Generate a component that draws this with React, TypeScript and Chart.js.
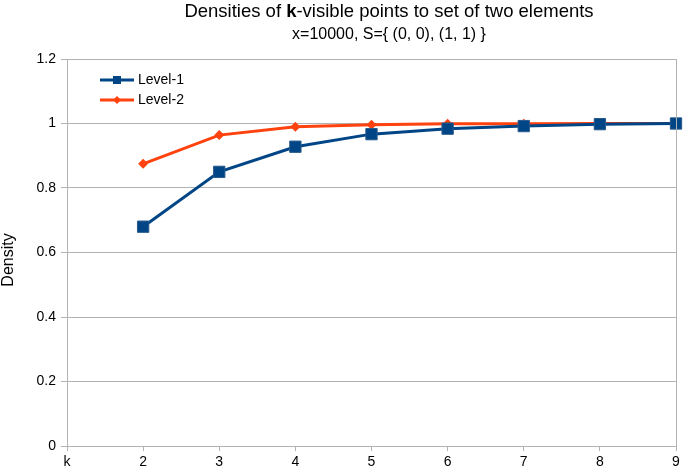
import React, { useEffect, useRef } from "react";
import { Chart, registerables } from "chart.js";

Chart.register(...registerables);

const categories = ["k", "2", "3", "4", "5", "6", "7", "8", "9"];
const level1 = [null, 0.68, 0.85, 0.928, 0.967, 0.984, 0.992, 0.998, 1.0];
const level2 = [null, 0.875, 0.964, 0.99, 0.996, 0.999, 0.999, 1.0, 1.0];
const seriesNames = ["Level-1", "Level-2"];
const yTicks = [0, 0.2, 0.4, 0.6, 0.8, 1, 1.2];
const titleParts = ["Densities of ", "k", "-visible points to set of two elements"];
const subtitleText = "x=10000, S={ (0, 0), (1, 1) }";
const yAxisTitle = "Density";

const BLUE = "#004586";
const ORANGE = "#ff420e";
const FONT = "'Liberation Sans', Arial, sans-serif";

const decorPlugin = {
  id: "decor",
  afterDraw(chart: any) {
    const ctx = chart.ctx;
    const ca = chart.chartArea;
    ctx.save();
    // right border
    ctx.strokeStyle = "#b3b3b3";
    ctx.lineWidth = 1;
    ctx.beginPath();
    ctx.moveTo(Math.round(ca.right) + 0.5, ca.top);
    ctx.lineTo(Math.round(ca.right) + 0.5, ca.bottom);
    ctx.stroke();

    // title with bold k
    const cx = 389;
    ctx.fillStyle = "#000";
    ctx.textBaseline = "middle";
    ctx.textAlign = "left";
    const fonts = [`18.5px ${FONT}`, `bold 18.5px ${FONT}`, `18.5px ${FONT}`];
    let total = 0;
    const widths = titleParts.map((t, i) => {
      ctx.font = fonts[i];
      const w = ctx.measureText(t).width;
      total += w;
      return w;
    });
    let x = cx - total / 2;
    titleParts.forEach((t, i) => {
      ctx.font = fonts[i];
      ctx.fillText(t, x, 12);
      x += widths[i];
    });
    ctx.font = `16px ${FONT}`;
    ctx.textAlign = "center";
    ctx.fillText(subtitleText, cx, 35);

    // y axis title
    ctx.save();
    ctx.translate(9, 260);
    ctx.rotate(-Math.PI / 2);
    ctx.font = `16px ${FONT}`;
    ctx.textAlign = "center";
    ctx.textBaseline = "middle";
    ctx.fillText(yAxisTitle, 0, 0);
    ctx.restore();

    // legend
    const items = [
      { name: seriesNames[0], color: BLUE, y: 80, shape: "rect" },
      { name: seriesNames[1], color: ORANGE, y: 100, shape: "diamond" },
    ];
    items.forEach((it) => {
      ctx.strokeStyle = it.color;
      ctx.lineWidth = 3;
      ctx.beginPath();
      ctx.moveTo(100, it.y);
      ctx.lineTo(134, it.y);
      ctx.stroke();
      ctx.fillStyle = it.color;
      if (it.shape === "rect") {
        ctx.fillRect(113, it.y - 4, 8, 8);
      } else {
        ctx.beginPath();
        ctx.moveTo(117, it.y - 4);
        ctx.lineTo(121, it.y);
        ctx.lineTo(117, it.y + 4);
        ctx.lineTo(113, it.y);
        ctx.closePath();
        ctx.fill();
      }
      ctx.fillStyle = "#000";
      ctx.font = `14px ${FONT}`;
      ctx.textAlign = "left";
      ctx.fillText(it.name, 138, it.y);
    });
    ctx.restore();
  },
};

export default function App() {
  const ref = useRef<HTMLCanvasElement>(null);
  useEffect(() => {
    document.body.style.margin = "0";
    const chart = new Chart(ref.current!, {
      type: "line",
      data: {
        labels: categories,
        datasets: [
          {
            label: seriesNames[0],
            data: level1,
            borderColor: BLUE,
            backgroundColor: BLUE,
            borderWidth: 3,
            pointStyle: "rect",
            pointRadius: 8,
            pointBorderColor: "#2a5a8c",
            pointBorderWidth: 1,
            tension: 0,
          },
          {
            label: seriesNames[1],
            data: level2,
            borderColor: ORANGE,
            backgroundColor: ORANGE,
            borderWidth: 3,
            pointStyle: "rectRot",
            pointRadius: 5,
            pointBorderWidth: 0,
            tension: 0,
          },
        ],
      },
      options: {
        animation: false,
        responsive: false,
        devicePixelRatio: 1,
        layout: { padding: { top: 59, right: 7, left: 0, bottom: 0 } },
        plugins: { legend: { display: false }, title: { display: false }, tooltip: { enabled: false } },
        scales: {
          x: {
            type: "category",
            offset: false,
            grid: { display: true, drawOnChartArea: false, drawTicks: true, tickLength: 5, color: "#b3b3b3" },
            border: { color: "#b3b3b3" },
            ticks: { color: "#000", font: { family: FONT, size: 14 }, padding: 3, maxRotation: 0, autoSkip: false },
            afterFit: (s: any) => { s.height = 24; },
          },
          y: {
            min: 0,
            max: 1.2,
            afterBuildTicks: (s: any) => { s.ticks = yTicks.map((v) => ({ value: v })); },
            grid: { color: "#b3b3b3", tickLength: 6 },
            border: { color: "#b3b3b3" },
            ticks: {
              color: "#000",
              font: { family: FONT, size: 14 },
              padding: 5,
              callback: (v: any) => String(Math.round(v * 10) / 10),
            },
            afterFit: (s: any) => { s.width = 67; },
          },
        },
      },
      plugins: [decorPlugin],
    } as any);
    return () => chart.destroy();
  }, []);
  return <canvas ref={ref} width={685} height={470} style={{ display: "block" }} />;
}
